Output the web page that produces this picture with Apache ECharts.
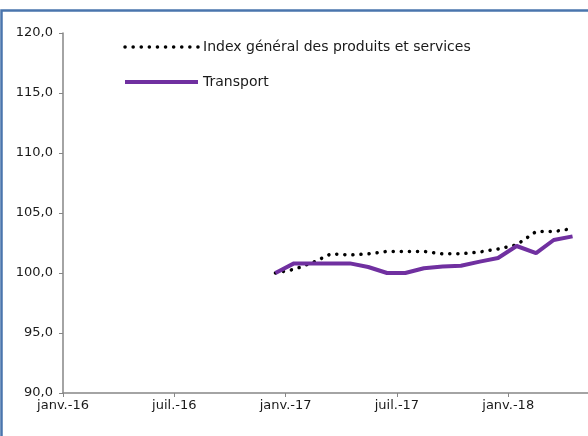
<!DOCTYPE html>
<html>
<head>
<meta charset="utf-8">
<script src="https://cdn.jsdelivr.net/npm/echarts@6/dist/echarts.min.js"></script>
<style>
    html,body{margin:0;padding:0;background:#fff;}
    #chart{width:588px;height:436px;}
</style>
</head>
<body>
<div id="chart"></div>
<script>
    // dates of the monthly observations (base déc. 2016 = 100)
    var dates = ['2016-12-15','2017-01-15','2017-02-15','2017-03-15','2017-04-15','2017-05-15',
                 '2017-06-15','2017-07-15','2017-08-15','2017-09-15','2017-10-15','2017-11-15',
                 '2017-12-15','2018-01-15','2018-02-15','2018-03-15','2018-04-15'];
    var indexGeneral = [100.0,100.3,100.9,101.6,101.5,101.6,101.8,101.8,101.8,101.6,101.6,101.75,
                        102.0,102.35,103.45,103.45,103.7];
    var transport = [100.0,100.8,100.8,100.8,100.8,100.5,100.0,100.0,100.4,100.55,100.6,100.95,
                     101.25,102.25,101.65,102.75,103.05];
    var seriesNames = ['Index général des produits et services','Transport'];
    var monthNames = ['janv.','févr.','mars','avr.','mai','juin','juil.','août','sept.','oct.','nov.','déc.'];
    var startYear = 2016;

    // date -> months since janv. 2016 (date axis like Excel)
    function toMonth(s){
        var p = s.split('-').map(Number);
        var dim = new Date(p[0], p[1], 0).getDate();
        return (p[0]-startYear)*12 + (p[1]-1) + (p[2]-1)/dim;
    }
    function pairs(vals){
        return vals.map(function(v,i){ return [toMonth(dates[i]), v]; });
    }

    var font = 'DejaVu Sans';
    var dotted = {color:'#000',width:3.5,type:[0.1,8],cap:'round'};
    var solid = {color:'#7030a0',width:4};

    var chart = echarts.init(document.getElementById('chart'));
    chart.setOption({
        animation:false,
        textStyle:{fontFamily:font},
        graphic:[{
            type:'rect',
            shape:{x:1.5,y:10.5,width:700,height:600},
            style:{fill:'none',stroke:'#4a75ad',lineWidth:2.5},
            silent:true
        }],
        legend:{
            orient:'vertical',
            left:118,
            top:35,
            itemWidth:73,
            itemHeight:14,
            itemGap:21,
            itemStyle:{opacity:0},
            textStyle:{fontFamily:font,fontSize:14,color:'#1a1a1a'},
            data:[
                {name:seriesNames[0],lineStyle:dotted},
                {name:seriesNames[1],lineStyle:solid}
            ]
        },
        grid:{left:63,top:33,right:0,bottom:43,containLabel:false},
        xAxis:{
            type:'value',
            min:0,
            max:28.3,
            interval:6,
            splitLine:{show:false},
            axisLine:{lineStyle:{color:'#868686',width:1.5}},
            axisTick:{show:true,length:4,lineStyle:{color:'#868686'}},
            axisLabel:{
                fontFamily:font,fontSize:13,color:'#1a1a1a',margin:6,showMaxLabel:false,
                formatter:function(v){
                    var y = startYear + Math.floor(v/12);
                    return monthNames[v%12] + '-' + String(y).slice(2);
                }
            }
        },
        yAxis:{
            type:'value',
            min:90,
            max:120,
            interval:5,
            splitLine:{show:false},
            axisLine:{show:true,lineStyle:{color:'#868686',width:1.5}},
            axisTick:{show:true,length:4,lineStyle:{color:'#868686'}},
            axisLabel:{
                fontFamily:font,fontSize:13,color:'#1a1a1a',margin:10,
                formatter:function(v){ return v.toFixed(1).replace('.',','); }
            }
        },
        series:[
            {
                name:seriesNames[0],
                type:'line',
                symbol:'none',
                data:pairs(indexGeneral),
                itemStyle:{color:'#000'},
                lineStyle:dotted,
                z:2
            },
            {
                name:seriesNames[1],
                type:'line',
                symbol:'none',
                data:pairs(transport),
                itemStyle:{color:'#7030a0'},
                lineStyle:solid,
                z:3
            }
        ]
    });
</script>
</body>
</html>
